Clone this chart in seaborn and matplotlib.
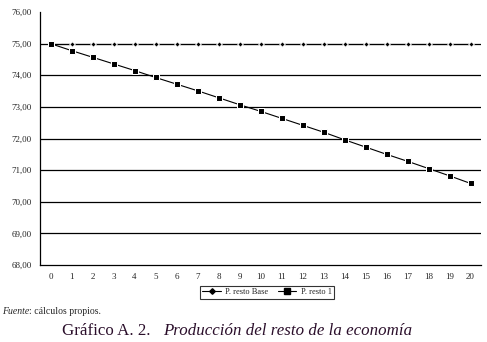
import numpy as np
import pandas as pd
import seaborn as sns
import matplotlib.pyplot as plt
from matplotlib.ticker import FixedLocator, FuncFormatter

periods = list(range(21))
resto_base = [75.0] * 21
resto_1 = [75.00, 74.78, 74.57, 74.36, 74.15, 73.93, 73.72, 73.51, 73.29, 73.07,
           72.86, 72.64, 72.42, 72.20, 71.96, 71.73, 71.50, 71.28, 71.05, 70.82, 70.58]
y_ticks = [68, 69, 70, 71, 72, 73, 74, 75, 76]

df = pd.concat([
    pd.DataFrame({"t": periods, "v": resto_base, "serie": "P. resto Base"}),
    pd.DataFrame({"t": periods, "v": resto_1, "serie": "P. resto 1"}),
])

sns.set_style("white")
plt.rcParams["font.family"] = ["Liberation Serif", "DejaVu Serif"]

fig = plt.figure(figsize=(4.87, 3.42), dpi=100)
ax = fig.add_axes([40 / 487, 1 - 265 / 342, 441 / 487, 253 / 342])

sns.lineplot(data=df, x="t", y="v", hue="serie", style="serie",
             markers={"P. resto Base": "D", "P. resto 1": "s"}, dashes=False,
             palette={"P. resto Base": "black", "P. resto 1": "black"},
             markersize=4, linewidth=0.8, ax=ax, legend=False)
# diamonds of the base series are smaller
ax.lines[0].set_markersize(2.8)

# gridlines (no line at the top value)
for y in y_ticks[1:-1]:
    ax.axhline(y, color="black", lw=0.9, zorder=0)

ax.set_xlim(-0.5, 20.5)
ax.set_ylim(68, 76)
ax.set_yticks(y_ticks)
ax.yaxis.set_major_formatter(FuncFormatter(lambda v, p: f"{v:.2f}".replace(".", ",")))
ax.set_xticks(periods)
ax.xaxis.set_minor_locator(FixedLocator(np.arange(-0.5, 21, 1)))
ax.tick_params(axis="x", which="major", length=0, labelsize=6.5, pad=6)
ax.tick_params(axis="x", which="minor", length=3, width=0.8, direction="out")
ax.tick_params(axis="y", length=3, width=0.8, direction="out", labelsize=6.5, pad=3)
ax.set_xlabel("")
ax.set_ylabel("")
for s in ["top", "right"]:
    ax.spines[s].set_visible(False)
for s in ["left", "bottom"]:
    ax.spines[s].set_color("black")
    ax.spines[s].set_linewidth(0.9)

handles = [
    plt.Line2D([], [], color="black", lw=0.8, marker="D", markersize=2.8),
    plt.Line2D([], [], color="black", lw=0.8, marker="s", markersize=4),
]
leg = fig.legend(handles, ["P. resto Base", "P. resto 1"], ncol=2,
                 loc="center", bbox_to_anchor=(267 / 487, 1 - 292 / 342),
                 fontsize=6, frameon=True, fancybox=False, handlelength=2.2,
                 borderpad=0.3, columnspacing=1.2, handletextpad=0.5)
leg.get_frame().set_edgecolor("black")
leg.get_frame().set_linewidth(0.8)

renderer = fig.canvas.get_renderer()
t1 = fig.text(2 / 487, 1 - 312 / 342, "Fuente", fontsize=7, style="italic",
              va="center", ha="left")
x_end = t1.get_window_extent(renderer).x1
fig.text(x_end / 487, 1 - 312 / 342, ": cálculos propios.", fontsize=7,
         va="center", ha="left")

fig.text(62 / 487, 1 - 331 / 342, "Gráfico A. 2.", fontsize=12.2, va="center",
         ha="left", color="#2b0f2b")
fig.text(163 / 487, 1 - 331 / 342, "Producción del resto de la economía",
         fontsize=12.2, va="center", ha="left", style="italic", color="#2b0f2b")

fig.savefig("out.png", dpi=100)
